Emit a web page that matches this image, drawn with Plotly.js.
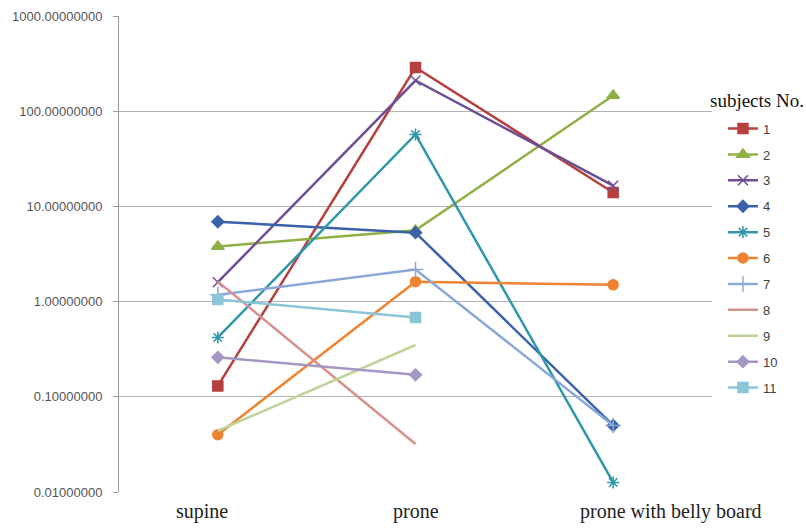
<!DOCTYPE html>
<html><head><meta charset="utf-8">
<script src="https://cdn.plot.ly/plotly-3.0.1.min.js"></script>
<style>body{margin:0;background:#fff}#chart{width:806px;height:528px}</style>
</head><body><div id="chart"></div>
<script>
const categories = ["supine", "prone", "prone with belly board"];
const subjects = ["1","2","3","4","5","6","7","8","9","10","11"];
const s1 = [0.13, 288, 14];
const s2 = [3.8, 5.6, 146];
const s3 = [1.6, 210, 16.5];
const s4 = [6.9, 5.3, 0.05];
const s5 = [0.42, 57, 0.0126];
const s6 = [0.04, 1.62, 1.5];
const s7 = [1.18, 2.17, 0.05];
const s8 = [1.62, 0.032, null];
const s9 = [0.044, 0.35, null];
const s10 = [0.26, 0.17, null];
const s11 = [1.05, 0.68, null];
const seriesValues = [s1,s2,s3,s4,s5,s6,s7,s8,s9,s10,s11];
const colors = ["#B5403D","#8FB045","#6E4F96","#3A62A8","#2F97A9","#EE8431","#8AA8D6","#D6918F","#C0D49A","#A596C4","#8BC5D8"];
const symbols = ["square","triangle-up","x-thin-open","diamond","asterisk-open","circle","cross-thin-open","circle","circle","diamond","square"];
const showMarker = [true,true,true,true,true,true,true,false,false,true,true];
const msize = [10,11,10,9,10,10,11,0,0,9,10];
const labelShift = [-16, 0, 58];

const traces = seriesValues.map((vals,i)=>({
  type:'scatter', mode: showMarker[i] ? 'lines+markers' : 'lines',
  name: subjects[i], legendgroup: 'g'+i,
  x: categories, y: vals,
  line:{color:colors[i], width:2.5},
  marker:{symbol:symbols[i], size:msize[i], color:colors[i], line:{color:colors[i], width:1.5}},
  connectgaps:false
}));

const annotations = categories.map((c,i)=>({
  text:c, xref:'x', yref:'paper', x:c, y:0, yanchor:'top', yshift:-6, xshift:labelShift[i],
  showarrow:false, font:{family:'Liberation Serif, Times New Roman, serif', size:20, color:'#222'}
}));
annotations.push({text:'subjects No.', xref:'paper', yref:'paper', x:0.993, xanchor:'left', y:0.8235, yanchor:'middle',
    showarrow:false, font:{family:'Liberation Serif, Times New Roman, serif', size:19, color:'#111'}});

const layout = {
  width:806, height:528,
  margin:{l:119, r:94, t:16, b:36},
  paper_bgcolor:'#fff', plot_bgcolor:'#fff',
  showlegend:true,
  legend:{x:1.0185, xanchor:'left', y:0.795, yanchor:'top', traceorder:'grouped', tracegroupgap:6,
    font:{family:'Liberation Sans, Arial, sans-serif', size:13, color:'#404040'}, itemwidth:30, bgcolor:'rgba(0,0,0,0)'},
  xaxis:{type:'category', range:[-0.5,2.5], showgrid:false, showline:false, zeroline:false, ticks:'',
    showticklabels:false, fixedrange:true},
  yaxis:{type:'log', range:[-2,3], dtick:1, tickformat:'.8f', showgrid:true, gridcolor:'#B3B3B3', gridwidth:1,
    showline:true, linecolor:'#9A9A9A', linewidth:1, ticks:'outside', ticklen:5, tickcolor:'#9A9A9A',
    ticklabelstandoff:8,
    tickfont:{family:'Liberation Sans, Arial, sans-serif', size:13, color:'#555'}, zeroline:false},
  annotations: annotations
};
Plotly.newPlot('chart', traces, layout, {displayModeBar:false, staticPlot:true});
</script></body></html>
